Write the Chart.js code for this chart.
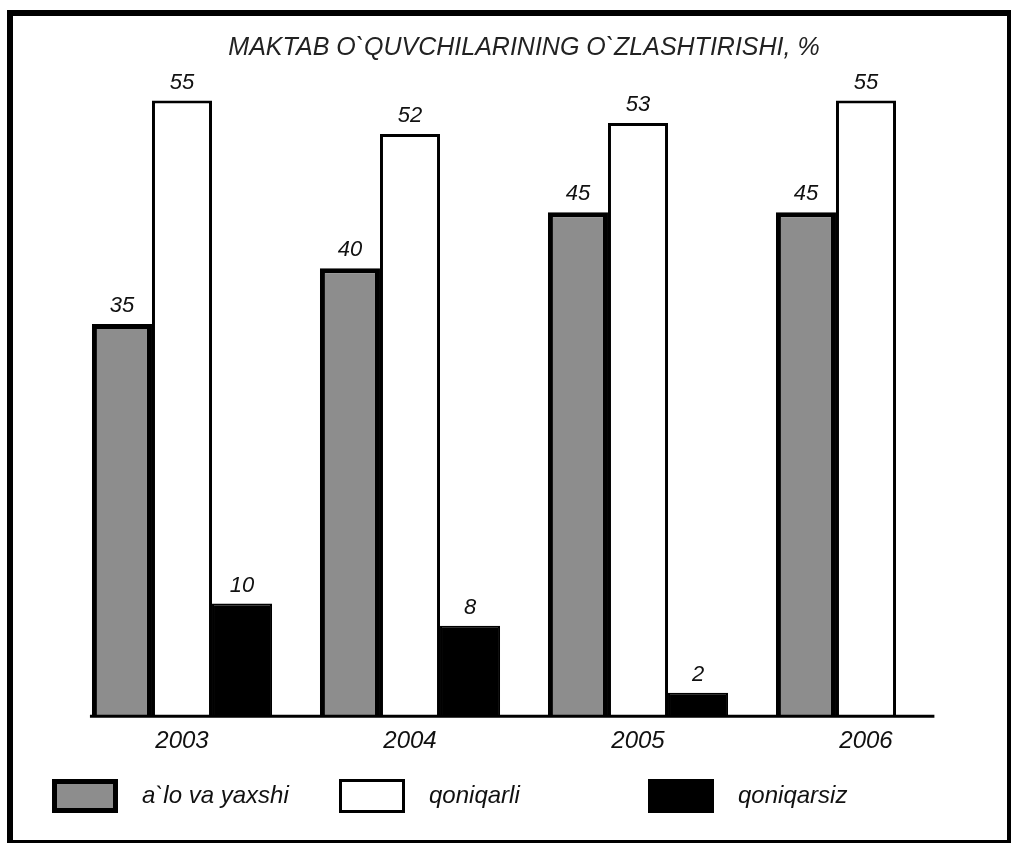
<!DOCTYPE html>
<html>
<head>
<meta charset="utf-8">
<script src="https://cdn.jsdelivr.net/npm/chart.js@4.4.0/dist/chart.umd.min.js"></script>
<style>
html, body { margin: 0; padding: 0; background: #fff; }
#wrap { position: absolute; left: 0; top: 0; width: 1011px; height: 843px; }
#frame {
   position: absolute; left: 7px; top: 10px; width: 1004px; height: 833px;
   box-sizing: border-box; pointer-events: none;
   border-top: 6px solid #000; border-left: 6px solid #000;
   border-right: 4px solid #000; border-bottom: 3px solid #000;
}
</style>
</head>
<body>
<div id="wrap">
   <canvas id="chart" width="1011" height="843"></canvas>
   <div id="frame"></div>
</div>
<script>
// chart data
var years = ['2003', '2004', '2005', '2006'];
var seriesNames = ['a`lo va yaxshi', 'qoniqarli', 'qoniqarsiz'];
var aloYaxshi = [35, 40, 45, 45];
var qoniqarli = [55, 52, 53, 55];
var qoniqarsiz = [10, 8, 2, null];

var FONT = 'Liberation Sans';

// numbers written above each bar
var valueLabels = {
   id: 'valueLabels',
   afterDatasetsDraw: function (chart) {
      var ctx = chart.ctx;
      ctx.save();
      ctx.font = 'italic 22px "' + FONT + '"';
      ctx.fillStyle = '#111';
      ctx.textAlign = 'center';
      ctx.textBaseline = 'bottom';
      chart.data.datasets.forEach(function (ds, i) {
         chart.getDatasetMeta(i).data.forEach(function (bar, j) {
            if (ds.data[j] == null) return;
            ctx.fillText(ds.data[j], bar.x, bar.y - 7);
         });
      });
      ctx.restore();
   }
};

// the base line under the bars
var baseLine = {
   id: 'baseLine',
   afterDatasetsDraw: function (chart) {
      var x = chart.scales.x, y = chart.scales.y;
      var first = chart.getDatasetMeta(0).data[0];
      var step = x.getPixelForValue(1) - x.getPixelForValue(0);
      var ctx = chart.ctx;
      ctx.save();
      ctx.strokeStyle = '#000';
      ctx.lineWidth = 3;
      ctx.beginPath();
      ctx.moveTo(first.x - first.width / 2 - 2, y.getPixelForValue(0) + 1);
      ctx.lineTo(x.getPixelForValue(3) + step * 0.3, y.getPixelForValue(0) + 1);
      ctx.stroke();
      ctx.restore();
   }
};

// legend row at the bottom, spaced like the printed one
var legendX = [52, 339, 648];
var legendRow = {
   id: 'legendRow',
   afterDraw: function (chart) {
      var ctx = chart.ctx;
      var top = 779, w = 66, h = 34;
      ctx.save();
      ctx.font = 'italic 24px "' + FONT + '"';
      ctx.textBaseline = 'middle';
      chart.data.datasets.forEach(function (ds, i) {
         var lw = ds.borderWidth;
         ctx.fillStyle = ds.backgroundColor;
         ctx.fillRect(legendX[i], top, w, h);
         ctx.strokeStyle = ds.borderColor;
         ctx.lineWidth = lw;
         ctx.strokeRect(legendX[i] + lw / 2, top + lw / 2, w - lw, h - lw);
         ctx.fillStyle = '#111';
         ctx.fillText(ds.label, legendX[i] + w + 24, top + h / 2);
      });
      ctx.restore();
   }
};

var mychart = document.getElementById('chart').getContext('2d');

var newChart = new Chart(mychart, {
   type: 'bar',
   data: {
      labels: years,
      datasets: [{
         label: seriesNames[0],
         data: aloYaxshi,
         backgroundColor: '#8d8d8d',
         borderColor: '#000',
         borderWidth: 5
      },
      {
         label: seriesNames[1],
         data: qoniqarli,
         backgroundColor: '#fff',
         borderColor: '#000',
         borderWidth: 3
      },
      {
         label: seriesNames[2],
         data: qoniqarsiz,
         backgroundColor: '#000',
         borderColor: '#000',
         borderWidth: 2
      }]
   },
   options: {
      responsive: false,
      animation: false,
      devicePixelRatio: 1,
      categoryPercentage: 0.79,
      barPercentage: 1,
      layout: { padding: { left: 68, right: 31, top: 0, bottom: 83 } },
      scales: {
         y: {
            display: false,
            min: 0,
            max: 58
         },
         x: {
            grid: { display: false },
            border: { display: false },
            ticks: {
               color: '#111',
               padding: 4,
               font: { family: FONT, size: 24, style: 'italic' }
            }
         }
      },
      plugins: {
         title: {
            display: true,
            text: 'MAKTAB O`QUVCHILARINING O`ZLASHTIRISHI, %',
            color: '#222',
            font: { family: FONT, size: 25, style: 'italic', weight: 'normal' },
            padding: { top: 33, bottom: 4 }
         },
         legend: { display: false },
         tooltip: { enabled: false }
      }
   },
   plugins: [valueLabels, baseLine, legendRow]
});
</script>
</body>
</html>
